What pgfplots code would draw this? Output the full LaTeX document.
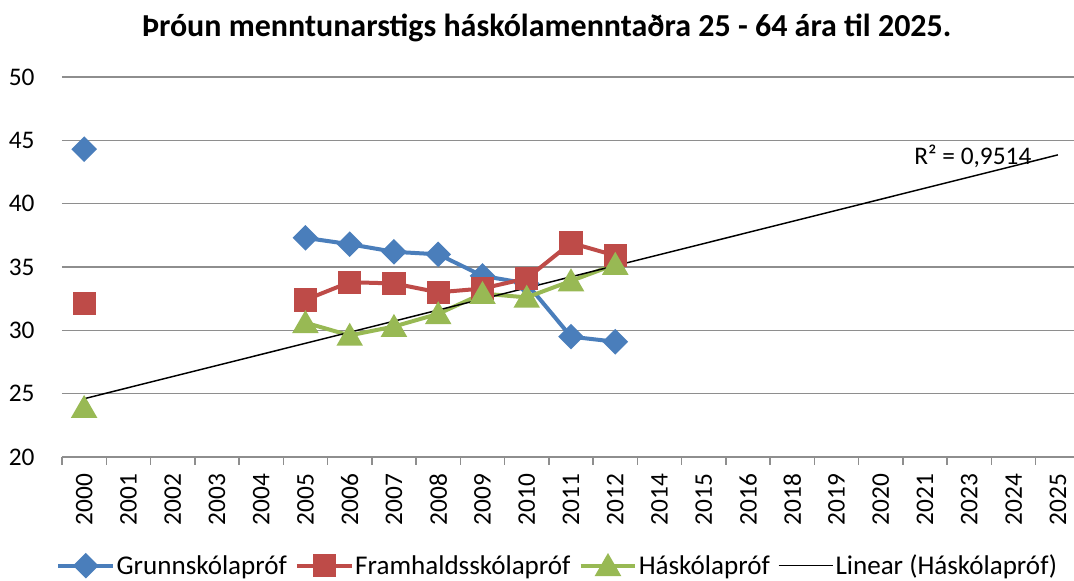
\documentclass[border=0pt]{standalone}
\usepackage{pgfplots}
\pgfplotsset{compat=1.18}
\usepackage{fontspec}
\setmainfont{Carlito}
\definecolor{cblue}{HTML}{4A7EBB}
\definecolor{cred}{HTML}{BE4B48}
\definecolor{cgreen}{HTML}{98B954}
\definecolor{cgrid}{HTML}{8E8E8E}
\newcommand\fs{\fontsize{19}{22}\selectfont}
\newcommand\fl{\fontsize{20.3}{24}\selectfont}
\begin{document}
\begin{tikzpicture}
\useasboundingbox (0,0) rectangle (805.5pt,435.75pt);
\node[font=\fontsize{24}{28}\selectfont\bfseries] at (410pt,414.75pt) {Þróun menntunarstigs háskólamenntaðra 25 - 64 ára til 2025.};
\begin{axis}[
  at={(46.5pt,93pt)}, anchor=south west,
  scale only axis, width=763.5pt, height=285pt,
  xmin=-0.5, xmax=22.5, ymin=20, ymax=50,
  unbounded coords=jump,
  ytick={20,25,...,50},
  ymajorgrids, grid style={cgrid, line width=1.1pt},
  axis x line=bottom, axis y line=left,
  x axis line style={-, draw=cgrid, line width=1.1pt},
  y axis line style={draw=none},
  every outer x axis line/.append style={-},
  ytick style={draw=none},
  yticklabel style={font=\fs},
  yticklabel shift=15pt,
  xtick={0,...,22},
  xticklabels={2000,2001,2002,2003,2004,2005,2006,2007,2008,2009,2010,2011,2012,2014,2015,2016,2018,2019,2020,2021,2023,2024,2025},
  x tick label style={rotate=90, anchor=east, font=\fs},
  xticklabel shift=7pt,
  xtick style={draw=none},
  extra x ticks={-0.5,0.5,...,22.5},
  extra x tick labels={},
  extra x tick style={xtick style={draw=cgrid, line width=1.1pt}, major tick length=6pt, tick align=outside, grid=none},
  /pgf/number format/assume math mode=true,
  legend columns=4,
  legend style={draw=none, font=\fl, at={(0.4873,-0.286)}, anchor=center,
    /tikz/every even column/.append style={column sep=4pt},
    /tikz/every odd column/.append style={column sep=-1pt},
    legend cell align=left},
  legend image code/.code={\draw[mark repeat=2,mark phase=2,#1] plot coordinates {(0pt,0pt)(20.6pt,0pt)(41.2pt,0pt)};},
]
\addplot[cblue, line width=3pt, mark=square*, mark size=5.3pt, mark options={rotate=45, solid}] coordinates {
(0,44.3)(1,nan)(5,37.3)(6,36.8)(7,36.2)(8,36.0)(9,34.3)(10,33.7)(11,29.5)(12,29.1)};
\addlegendentry{Grunnskólapróf}
\addplot[cred, line width=3pt, mark=square*, mark size=7.2pt, mark options={solid}] coordinates {
(0,32.1)(1,nan)(5,32.4)(6,33.8)(7,33.7)(8,33.0)(9,33.3)(10,34.1)(11,36.9)(12,35.9)};
\addlegendentry{Framhaldsskólapróf}
\addplot[cgreen, line width=3pt, mark=triangle*, mark size=8.5pt, mark options={solid, yshift=-2pt}] coordinates {
(0,23.9)(1,nan)(5,30.6)(6,29.6)(7,30.3)(8,31.3)(9,32.9)(10,32.6)(11,33.9)(12,35.2)};
\addlegendentry{Háskólapróf}
\addplot[black, line width=1.1pt, mark=none] coordinates {(0,24.6)(22,43.85)};
\addlegendentry{Linear (Háskólapróf)}
\node[font=\fs] at (axis cs:20.08,43.7) {R² = 0,9514};
\end{axis}
\end{tikzpicture}
\end{document}
